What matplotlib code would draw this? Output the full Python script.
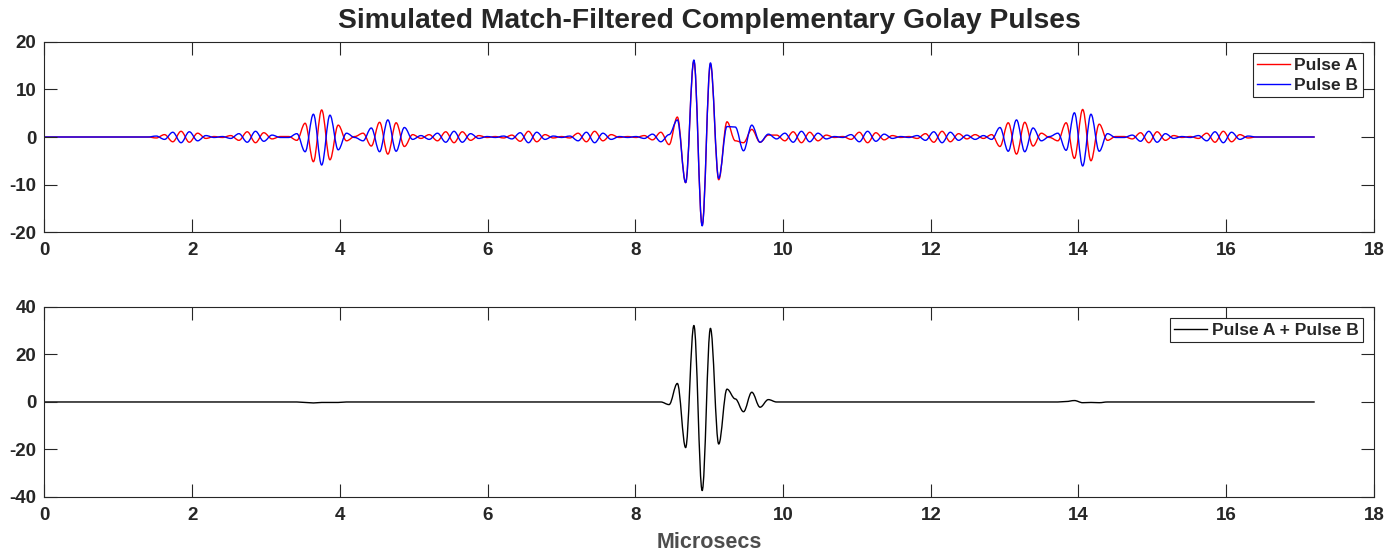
import numpy as np
import matplotlib
matplotlib.use("Agg")
import matplotlib.pyplot as plt
from matplotlib.path import Path
from matplotlib.patches import PathPatch

plt.rcParams['font.family'] = ['Liberation Sans', 'DejaVu Sans']
plt.rcParams['font.weight'] = 'bold'
plt.rcParams['axes.unicode_minus'] = False

# sample grid of the traces (microseconds), one sample per half carrier cycle
t_first = -0.055
t_step = 0.112

# Pulse A (red), one value per half cycle
pulse_a = [0.0,
           0.0, 0.0, 0.0, 0.0, 0.0, 0.0, 0.0, 0.0, 0.0, 0.0,
           0.0, 0.0, 0.0, -0.2, 0.5, -1.0, 1.2, -1.1, 0.8, -0.3,
           0.1, -0.1, 0.3, -0.7, 1.1, -1.2, 0.9, -0.4, 0.1, 0.1,
           -0.7, 2.9, -5.2, 5.7, -4.8, 2.5, -0.8, 0.1, 0.8, -1.9,
           3.1, -3.6, 3.0, -2.0, 0.5, -0.3, 0.5, -0.8, 1.1, -1.2,
           1.1, -0.7, 0.3, -0.1, 0.1, -0.2, 0.4, -0.9, 1.2, -1.0,
           0.5, -0.2, 0.1, -0.2, 0.8, -1.0, 1.2, -0.8, 0.5, -0.1,
           0.1, -0.1, 0.3, -0.6, 1.0, -1.6, 4.2, -9.6, 16.0, -18.6,
           15.4, -9.0, 3.2, -0.8, -1.2, 1.6, -1.1, 0.4, 0.4, -0.8,
           1.1, -1.2, 1.0, -0.8, 0.4, -0.1, 0.1, -0.5, 1.0, -1.2,
           0.9, -0.6, 0.3, -0.1, 0.1, -0.3, 0.7, -1.1, 1.2, -1.0,
           0.7, -0.4, 0.5, -0.3, 0.5, -2.0, 3.0, -3.6, 3.1, -1.9,
           0.8, -0.1, -0.8, 3.0, -4.5, 5.8, -5.0, 2.7, -0.7, 0.1,
           0.1, -0.4, 0.9, -1.2, 1.1, -0.7, 0.3, -0.1, 0.1, -0.3,
           0.8, -1.1, 1.2, -1.0, 0.5, -0.2, 0.0, 0.0, 0.0, 0.0,
           0.0, 0.0, 0.0, 0.0]

# Pulse B (blue)
pulse_b = [0.0,
           0.0, 0.0, 0.0, 0.0, 0.0, 0.0, 0.0, 0.0, 0.0, 0.0,
           0.0, 0.0, 0.0, 0.2, -0.5, 1.0, -1.2, 1.1, -0.8, 0.3,
           -0.1, 0.1, -0.3, 0.7, -1.1, 1.2, -0.9, 0.4, -0.1, -0.1,
           0.7, -3.1, 4.8, -5.9, 4.6, -2.7, 0.8, -0.1, -0.8, 1.9,
           -3.1, 3.6, -3.0, 2.0, -0.5, 0.3, -0.5, 0.8, -1.1, 1.2,
           -1.1, 0.7, -0.3, 0.1, -0.1, 0.2, -0.4, 0.9, -1.2, 1.0,
           -0.5, 0.2, -0.1, 0.2, -0.8, 1.0, -1.2, 0.8, -0.5, 0.1,
           -0.1, 0.1, -0.3, 0.6, -1.0, 0.5, 3.6, -9.6, 16.2, -18.7,
           15.6, -8.7, 2.2, 2.1, -2.9, 2.5, -1.1, 0.6, -0.4, 0.8,
           -1.1, 1.2, -1.0, 0.8, -0.4, 0.1, -0.1, 0.5, -1.0, 1.2,
           -0.9, 0.6, -0.3, 0.1, -0.1, 0.3, -0.7, 1.1, -1.2, 1.0,
           -0.7, 0.4, -0.5, 0.3, -0.5, 2.0, -3.0, 3.6, -3.1, 1.9,
           -0.8, 0.1, 0.8, -2.8, 5.1, -6.1, 4.8, -3.0, 0.7, -0.1,
           -0.1, 0.4, -0.9, 1.2, -1.1, 0.7, -0.3, 0.1, -0.1, 0.3,
           -0.8, 1.1, -1.2, 1.0, -0.5, 0.2, 0.0, 0.0, 0.0, 0.0,
           0.0, 0.0, 0.0, 0.0]

a = np.array(pulse_a)
b = np.array(pulse_b)
t = t_first + t_step * np.arange(len(a))
total = a + b


def smooth_trace(ax, x, y, color, lw=1.0):
    # draw the samples as a curve with flat tangents at each peak
    d = 0.364 * (x[1] - x[0])
    verts = [(x[0], y[0])]
    codes = [Path.MOVETO]
    for i in range(len(x) - 1):
        verts += [(x[i] + d, y[i]), (x[i + 1] - d, y[i + 1]), (x[i + 1], y[i + 1])]
        codes += [Path.CURVE4] * 3
    ax.add_patch(PathPatch(Path(verts, codes), fill=False, edgecolor=color,
                           lw=lw, capstyle='round', joinstyle='round'))


fig = plt.figure(figsize=(13.97, 5.54), dpi=100)
ax1 = fig.add_axes([0.03185, 0.5812, 0.9516, 0.343])
ax2 = fig.add_axes([0.03185, 0.1029, 0.9516, 0.343])

axcol = '#262626'

smooth_trace(ax1, t, a, 'r')
smooth_trace(ax1, t, b, 'b')
smooth_trace(ax2, t, total, 'k')
# legend entries
ax1.plot([], [], color='r', lw=1.0, label='Pulse A')
ax1.plot([], [], color='b', lw=1.0, label='Pulse B')
ax2.plot([], [], color='k', lw=1.0, label='Pulse A + Pulse B')

ax1.set_ylim(-20, 20)
ax1.set_yticks([-20, -10, 0, 10, 20])
ax2.set_ylim(-40, 40)
ax2.set_yticks([-40, -20, 0, 20, 40])

for ax in (ax1, ax2):
    ax.set_xlim(0, 18)
    ax.set_xticks(range(0, 19, 2))
    ax.tick_params(direction='in', length=9.5, width=0.8, top=True, right=True,
                   colors=axcol, labelsize=13.5)
    ax.tick_params(axis='x', pad=7)
    ax.tick_params(axis='y', pad=6)
    for lab in ax.get_xticklabels() + ax.get_yticklabels():
        lab.set_fontweight('bold')
    for s in ax.spines.values():
        s.set_color(axcol)
        s.set_linewidth(0.8)
    leg = ax.legend(loc='upper right', fancybox=False, framealpha=1,
                    edgecolor=axcol, fontsize=12.5, handlelength=1.9,
                    handletextpad=0.25, borderpad=0.25, labelspacing=0.3,
                    borderaxespad=0.65)
    leg.get_frame().set_linewidth(0.8)
    for txt in leg.get_texts():
        txt.set_fontweight('bold')
        txt.set_color(axcol)

ax1.set_title('Simulated Match-Filtered Complementary Golay Pulses',
              fontsize=20.3, fontweight='bold', color=axcol, pad=10)
ax2.set_xlabel('Microsecs', fontsize=15.5, fontweight='bold', color='#4d4d4d',
               labelpad=6)

fig.savefig('out.png', dpi=100)
